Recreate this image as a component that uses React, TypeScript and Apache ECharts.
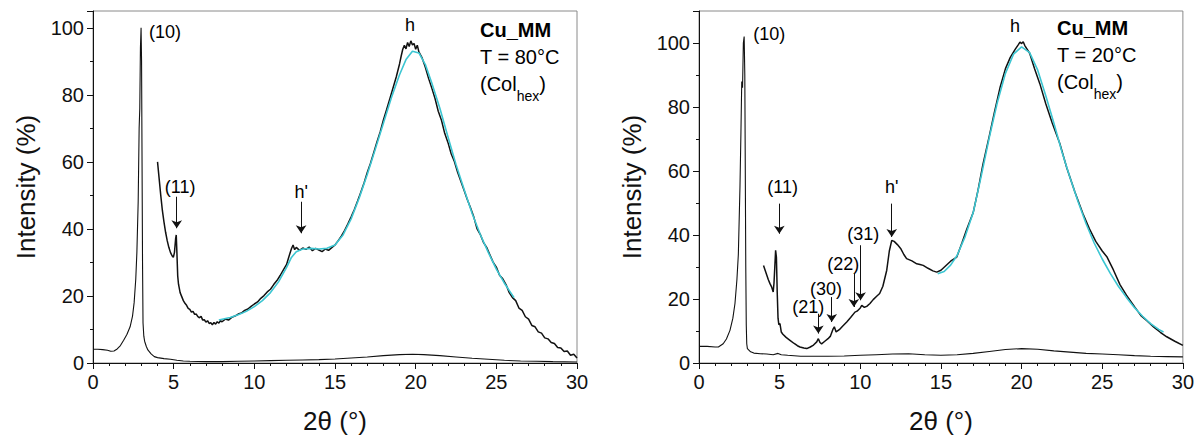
import React, { useEffect, useRef } from "react";
import * as echarts from "echarts";

// ---------- DATA ----------
// Left panel: T = 80°C
const leftLowAngle: number[][] = [
  [0, 4.1], [0.3, 4.1], [0.6, 4.0], [0.9, 3.8], [1.1, 3.5], [1.3, 3.6], [1.5, 4.2], [1.7, 5.2],
  [1.9, 6.8], [2.1, 8.5], [2.3, 10.8], [2.45, 14], [2.55, 18], [2.65, 25], [2.72, 33], [2.8, 48],
  [2.86, 70], [2.9, 76], [2.94, 94], [2.98, 100], [3.01, 90], [3.04, 60], [3.07, 30], [3.1, 12],
  [3.15, 8], [3.2, 6.5], [3.3, 5], [3.4, 3.9], [3.6, 2.7], [3.8, 1.9], [4.0, 1.6], [4.4, 1.3],
  [4.8, 1.1], [5.2, 0.8], [5.6, 0.6], [6, 0.5], [7, 0.4], [8, 0.4], [9, 0.5], [10, 0.6], [11, 0.7],
  [12, 0.8], [13, 0.9], [14, 1.0], [15, 1.2], [16, 1.5], [17, 1.8], [18, 2.2], [19, 2.5], [19.8, 2.6],
  [20.5, 2.5], [21.5, 2.2], [22.5, 1.8], [23.5, 1.4], [24.5, 1.1], [25.5, 0.8], [26.5, 0.6],
  [27.5, 0.5], [28.5, 0.4], [30, 0.3],
];

const leftHighAngle: number[][] = [
  [4.0, 60], [4.1, 55], [4.2, 50], [4.3, 45.5], [4.4, 42], [4.5, 39], [4.6, 36.5], [4.7, 34.5],
  [4.8, 33], [4.9, 32], [4.98, 31.5], [5.05, 33], [5.12, 37], [5.16, 38.2], [5.2, 33], [5.25, 26],
  [5.3, 23.5], [5.4, 21], [5.5, 19.8], [5.6, 18.6], [5.7, 17.8], [5.8, 17.2], [5.9, 16.3], [6.0, 16.0],
  [6.1, 15.2], [6.2, 15.4], [6.3, 14.5], [6.4, 14.6], [6.5, 13.8], [6.6, 13.5], [6.7, 13.9], [6.8, 12.8],
  [6.9, 12.9], [7.0, 12.2], [7.1, 12.6], [7.2, 11.8], [7.3, 12.0], [7.4, 11.4], [7.5, 12.1], [7.6, 11.6],
  [7.7, 12.3], [7.8, 11.9], [7.9, 12.6], [8.0, 12.3], [8.2, 13.1], [8.4, 12.8], [8.6, 13.6], [8.8, 14.0],
  [9.0, 14.6], [9.2, 14.9], [9.4, 15.7], [9.6, 16.1], [9.8, 16.9], [10.0, 17.6], [10.2, 18.2],
  [10.4, 19.3], [10.6, 20.1], [10.8, 21.2], [11.0, 22.0], [11.2, 23.4], [11.4, 24.6], [11.6, 26.1],
  [11.8, 27.8], [12.0, 29.4], [12.1, 31.0], [12.2, 32.6], [12.3, 34.1], [12.4, 35.2], [12.5, 33.8],
  [12.6, 34.5], [12.8, 33.6], [13.0, 34.3], [13.2, 33.9], [13.4, 34.6], [13.6, 33.5], [13.8, 34.2],
  [14.0, 33.7], [14.2, 33.2], [14.4, 34.0], [14.6, 33.6], [14.8, 34.4], [15.0, 35.2], [15.2, 36.5],
  [15.4, 37.9], [15.6, 39.6], [15.8, 41.5], [16.0, 43.6], [16.2, 45.8], [16.4, 48.3], [16.6, 50.9],
  [16.8, 53.7], [17.0, 56.8], [17.2, 59.6], [17.4, 62.7], [17.6, 65.9], [17.8, 68.9], [18.0, 72.5],
  [18.2, 75.6], [18.4, 78.8], [18.6, 82.1], [18.8, 85.4], [19.0, 89.2], [19.1, 91.5], [19.2, 93.6],
  [19.3, 94.8], [19.4, 93.7], [19.5, 95.6], [19.6, 94.4], [19.7, 96.1], [19.8, 94.9], [19.9, 95.3],
  [20.0, 93.6], [20.1, 94.8], [20.2, 92.8], [20.4, 91.0], [20.6, 88.2], [20.8, 84.9], [21.0, 82.0],
  [21.2, 78.9], [21.4, 75.1], [21.6, 72.4], [21.8, 68.5], [22.0, 65.8], [22.2, 62.4], [22.4, 60.1],
  [22.6, 56.9], [22.8, 54.2], [23.0, 51.5], [23.2, 48.8], [23.4, 46.3], [23.6, 43.6], [23.8, 40.1],
  [24.0, 38.4], [24.2, 36.0], [24.4, 34.5], [24.6, 32.3], [24.8, 30.1], [25.0, 28.6], [25.2, 26.2],
  [25.4, 25.1], [25.6, 23.4], [25.8, 21.0], [26.0, 19.5], [26.2, 18.6], [26.4, 16.4], [26.6, 15.7],
  [26.8, 13.8], [27.0, 13.1], [27.2, 11.2], [27.4, 10.8], [27.6, 9.3], [27.8, 8.9], [28.0, 7.5],
  [28.2, 7.2], [28.4, 6.1], [28.6, 5.8], [28.8, 4.6], [29.0, 4.5], [29.2, 3.4], [29.4, 3.6],
  [29.6, 2.3], [29.8, 2.6], [30.0, 1.5],
];

const leftFit: number[][] = [
  [7.8, 12.8], [8.5, 13.6], [9, 14.4], [9.5, 15.4], [10, 16.8], [10.5, 18.6], [11, 21], [11.5, 24.2],
  [12, 28.5], [12.3, 31.5], [12.6, 33.2], [13, 34], [13.5, 34.2], [14, 34], [14.5, 34.2], [15, 35.2],
  [15.5, 38.2], [16, 43], [16.5, 49.2], [17, 56.2], [17.5, 63.8], [18, 71.5], [18.5, 79.2], [19, 86],
  [19.4, 90.5], [19.8, 93], [20.2, 92.5], [20.6, 89], [21, 83.5], [21.5, 76], [22, 67.5], [22.5, 59.2],
  [23, 51.8], [23.5, 44.6], [24, 38.4], [24.5, 33], [25, 28], [25.5, 23.8], [26.1, 19.5],
];

// Right panel: T = 20°C
const rightLowAngle: number[][] = [
  [0, 5.2], [0.5, 5.2], [1.0, 5.0], [1.2, 5.0], [1.5, 6.0], [1.7, 7.5], [1.92, 10.2], [2.1, 14],
  [2.23, 18.6], [2.35, 26], [2.44, 34], [2.54, 55], [2.6, 72], [2.65, 88], [2.7, 86], [2.75, 100],
  [2.8, 102], [2.84, 90], [2.87, 60], [2.9, 30], [2.93, 12], [2.96, 6], [3.0, 4.5], [3.2, 3.5],
  [3.4, 3.1], [3.8, 2.9], [4.2, 2.8], [4.6, 2.6], [4.9, 3.0], [5.1, 2.6], [5.5, 2.4], [6.3, 2.1],
  [7, 2.1], [8, 2.1], [9, 2.2], [10, 2.4], [11, 2.6], [12, 2.8], [13, 2.9], [14, 2.6], [15, 2.4],
  [16, 2.6], [17, 3.0], [18, 3.6], [19, 4.2], [20, 4.5], [21, 4.3], [22, 3.8], [23, 3.4], [24, 3.0],
  [25, 2.8], [26, 2.6], [27, 2.3], [28, 2.1], [29, 2.0], [30, 1.9],
];

const rightHighAngle: number[][] = [
  [4.0, 30.5], [4.1, 29], [4.2, 27.5], [4.3, 26], [4.4, 24.8], [4.5, 23.8], [4.6, 22.2], [4.65, 25],
  [4.7, 30], [4.75, 35.2], [4.8, 33], [4.85, 22], [4.9, 14], [4.95, 12], [5.02, 12.3], [5.1, 9.7],
  [5.2, 9], [5.4, 8], [5.64, 7.1], [5.9, 6.1], [6.1, 5.4], [6.26, 5.0], [6.5, 4.7], [6.68, 4.5],
  [6.9, 5], [7.1, 5.6], [7.3, 6.6], [7.4, 7.6], [7.5, 6.4], [7.6, 6.0], [7.8, 6.8], [8.0, 7.6],
  [8.15, 8.4], [8.3, 10.5], [8.39, 11.3], [8.5, 9.7], [8.7, 10.4], [8.9, 11.5], [9.16, 12.8],
  [9.4, 14.2], [9.67, 15.9], [9.8, 16.2], [10.0, 17.2], [10.09, 18.0], [10.25, 17.4], [10.4, 17.7],
  [10.6, 18.6], [10.8, 19.8], [11.0, 20.8], [11.2, 21.7], [11.4, 24], [11.64, 29], [11.8, 35],
  [11.95, 38.3], [12.1, 38], [12.3, 37], [12.5, 35.8], [12.7, 33.9], [12.87, 32.6], [13.2, 31.9],
  [13.5, 31], [13.7, 30.8], [13.9, 30.5], [14.2, 29.6], [14.5, 28.8], [14.74, 28.4], [15.0, 29.0],
  [15.3, 30.4], [15.6, 31.8], [15.98, 33.1], [16.3, 37.5], [16.6, 41.8], [17.0, 47], [17.3, 54],
  [17.6, 62], [18.0, 71], [18.3, 78], [18.66, 86], [19.0, 92], [19.3, 95.5], [19.6, 98], [19.8, 99.5],
  [19.9, 100.3], [20.0, 99.8], [20.1, 100.4], [20.2, 99.2], [20.5, 96.8], [20.8, 92], [21.13, 87.3],
  [21.5, 81], [21.9, 75], [22.37, 68.6], [22.8, 61], [23.3, 53.5], [23.8, 46.7], [24.2, 42], [24.6, 38],
  [25.0, 35], [25.3, 33.1], [25.7, 29], [26.1, 24.5], [26.5, 21.2], [27.0, 17.6], [27.4, 14.8],
  [27.75, 13.3], [28.2, 11.2], [28.6, 9.6], [29.0, 8.2], [29.5, 6.8], [30, 5.5],
];

const rightFit: number[][] = [
  [14.8, 27.9], [15.2, 28.6], [15.6, 30.6], [16.0, 33.6], [16.5, 39.5], [17.0, 47], [17.5, 58.5],
  [18.0, 70.5], [18.5, 81.5], [19.0, 90.5], [19.5, 96.5], [20.0, 98.8], [20.5, 97], [21.0, 91.5],
  [21.5, 83.5], [22.0, 75], [22.5, 66], [23.0, 58], [23.5, 50.5], [24.0, 43.5], [24.5, 37.5],
  [25.0, 32.5], [25.5, 28], [26.0, 24], [26.5, 20.5], [27.0, 17.3], [27.5, 14.6], [28.0, 12.3],
  [28.5, 10.5], [28.8, 9.7],
];

// Peak labels [text, x, y] and arrows [x, yFrom, yTo] in data units
const leftLabels: [string, number, number][] = [
  ["(10)", 4.46, 98.7], ["(11)", 5.4, 52.6], ["h'", 12.9, 51.1], ["h", 19.65, 100.9],
];
const leftArrows: [number, number, number][] = [
  [5.19, 49.6, 40.2], [12.9, 48.1, 38.7],
];
const rightLabels: [string, number, number][] = [
  ["(10)", 4.36, 102.9], ["(11)", 5.19, 55], ["h'", 11.95, 55], ["(31)", 10.19, 40.2],
  ["(22)", 8.95, 31], ["(30)", 7.87, 23.2], ["(21)", 6.78, 17.5], ["h", 19.59, 105.2],
];
const rightArrows: [number, number, number][] = [
  [4.98, 49.8, 40.4], [11.95, 49.8, 39.4], [10.02, 36.8, 19.6], [9.6, 27.9, 17.5],
  [8.23, 20.6, 12.8], [7.4, 15.4, 9.2],
];

const xTicks = { min: 0, max: 30, interval: 5 };
const yMaxLeft = 105;
const yMaxRight = 110;
const sampleLeft = ["Cu_MM", "T = 80°C", "(Col{sub|hex})"];
const sampleRight = ["Cu_MM", "T = 20°C", "(Col{sub|hex})"];

// ---------- CHART ----------
const FONT = "'Liberation Sans', Arial, sans-serif";
const BLACK = "#111";
const CYAN = "#3cc6d2";

function xAxis(gridIndex: number) {
  return {
    type: "value",
    gridIndex,
    min: xTicks.min,
    max: xTicks.max,
    interval: xTicks.interval,
    name: "2θ (°)",
    nameLocation: "middle",
    nameGap: 45,
    nameTextStyle: { fontSize: 26, color: BLACK, fontFamily: FONT },
    axisLine: { lineStyle: { color: BLACK, width: 1 } },
    axisTick: { length: 6, lineStyle: { color: BLACK } },
    minorTick: { show: true, splitNumber: 5, length: 3, lineStyle: { color: BLACK } },
    axisLabel: { fontSize: 20, color: BLACK, fontFamily: FONT, margin: 9 },
    splitLine: { show: false },
  };
}

function yAxis(gridIndex: number, max: number) {
  return {
    type: "value",
    gridIndex,
    min: 0,
    max,
    interval: 20,
    name: "Intensity (%)",
    nameLocation: "middle",
    nameGap: 54,
    nameTextStyle: { fontSize: 26, color: BLACK, fontFamily: FONT },
    axisLine: { show: true, lineStyle: { color: BLACK, width: 1 } },
    axisTick: { show: true, length: 6, lineStyle: { color: BLACK } },
    minorTick: { show: true, splitNumber: 2, length: 3, lineStyle: { color: BLACK } },
    axisLabel: { fontSize: 20, color: BLACK, fontFamily: FONT, margin: 9, showMaxLabel: false },
    splitLine: { show: false },
  };
}

function curve(data: number[][], idx: number, color: string, width: number, z: number) {
  return {
    type: "line",
    xAxisIndex: idx,
    yAxisIndex: idx,
    data,
    showSymbol: false,
    symbol: "none",
    smooth: false,
    lineStyle: { color, width },
    z,
    silent: true,
  };
}

function annotations(labels: [string, number, number][], arrows: [number, number, number][], idx: number) {
  return {
    type: "scatter",
    xAxisIndex: idx,
    yAxisIndex: idx,
    symbolSize: 0,
    silent: true,
    z: 5,
    itemStyle: { color: BLACK, opacity: 1 },
    data: labels.map(([t, x, y]) => ({ name: t, value: [x, y] })),
    label: {
      show: true,
      position: "inside",
      formatter: (p: any) => p.name,
      fontSize: 18,
      color: "#000",
      textBorderWidth: 0,
      textBorderColor: "transparent",
      fontFamily: FONT,
    },
    markLine: {
      silent: true,
      symbol: ["none", "arrow"],
      symbolSize: 8,
      label: { show: false },
      lineStyle: { color: BLACK, width: 1, type: "solid" },
      itemStyle: { color: BLACK },
      emphasis: { disabled: true },
      data: arrows.map(([x, y1, y2]) => [{ coord: [x, y1] }, { coord: [x, y2] }]),
    },
  };
}

function textBlock(lines: string[], x: number, y0: number, dy: number) {
  return lines.map((t, i) => ({
    type: "text",
    x,
    y: y0 + i * dy,
    silent: true,
    style: {
      text: t,
      fill: "#000",
      fontFamily: FONT,
      fontSize: 20,
      fontWeight: i === 0 ? "bold" : "normal",
      verticalAlign: "middle",
      rich: {
        sub: { fontSize: 14, fontFamily: FONT, fill: "#000", lineHeight: 14, verticalAlign: "bottom", padding: [0, 0, -9, 0] },
      },
    },
  }));
}

export default function App() {
  const ref = useRef<HTMLDivElement>(null);
  useEffect(() => {
    document.body.style.margin = "0";
    if (!ref.current) return;
    const chart = echarts.init(ref.current, undefined, { renderer: "svg" });
    chart.setOption({
      animation: false,
      backgroundColor: "#fff",
      textStyle: { fontFamily: FONT },
      grid: [
        { left: 93, right: 620, top: 11, bottom: 77, show: true, borderColor: "#8a8a8a", borderWidth: 1 },
        { left: 699, right: 14, top: 11, bottom: 77, show: true, borderColor: "#8a8a8a", borderWidth: 1 },
      ],
      xAxis: [xAxis(0), xAxis(1)],
      yAxis: [yAxis(0, yMaxLeft), yAxis(1, yMaxRight)],
      series: [
        curve(leftLowAngle, 0, BLACK, 1.1, 2),
        curve(leftHighAngle, 0, BLACK, 1.5, 2),
        curve(leftFit, 0, CYAN, 1.6, 3),
        annotations(leftLabels, leftArrows, 0),
        curve(rightLowAngle, 1, BLACK, 1.1, 2),
        curve(rightHighAngle, 1, BLACK, 1.5, 2),
        curve(rightFit, 1, CYAN, 1.6, 3),
        annotations(rightLabels, rightArrows, 1),
      ],
      graphic: [
        ...textBlock(sampleLeft, 480, 30, 27),
        ...textBlock(sampleRight, 1057, 28, 27),
      ],
    });
    return () => chart.dispose();
  }, []);
  return <div ref={ref} style={{ width: 1197, height: 440 }} />;
}
